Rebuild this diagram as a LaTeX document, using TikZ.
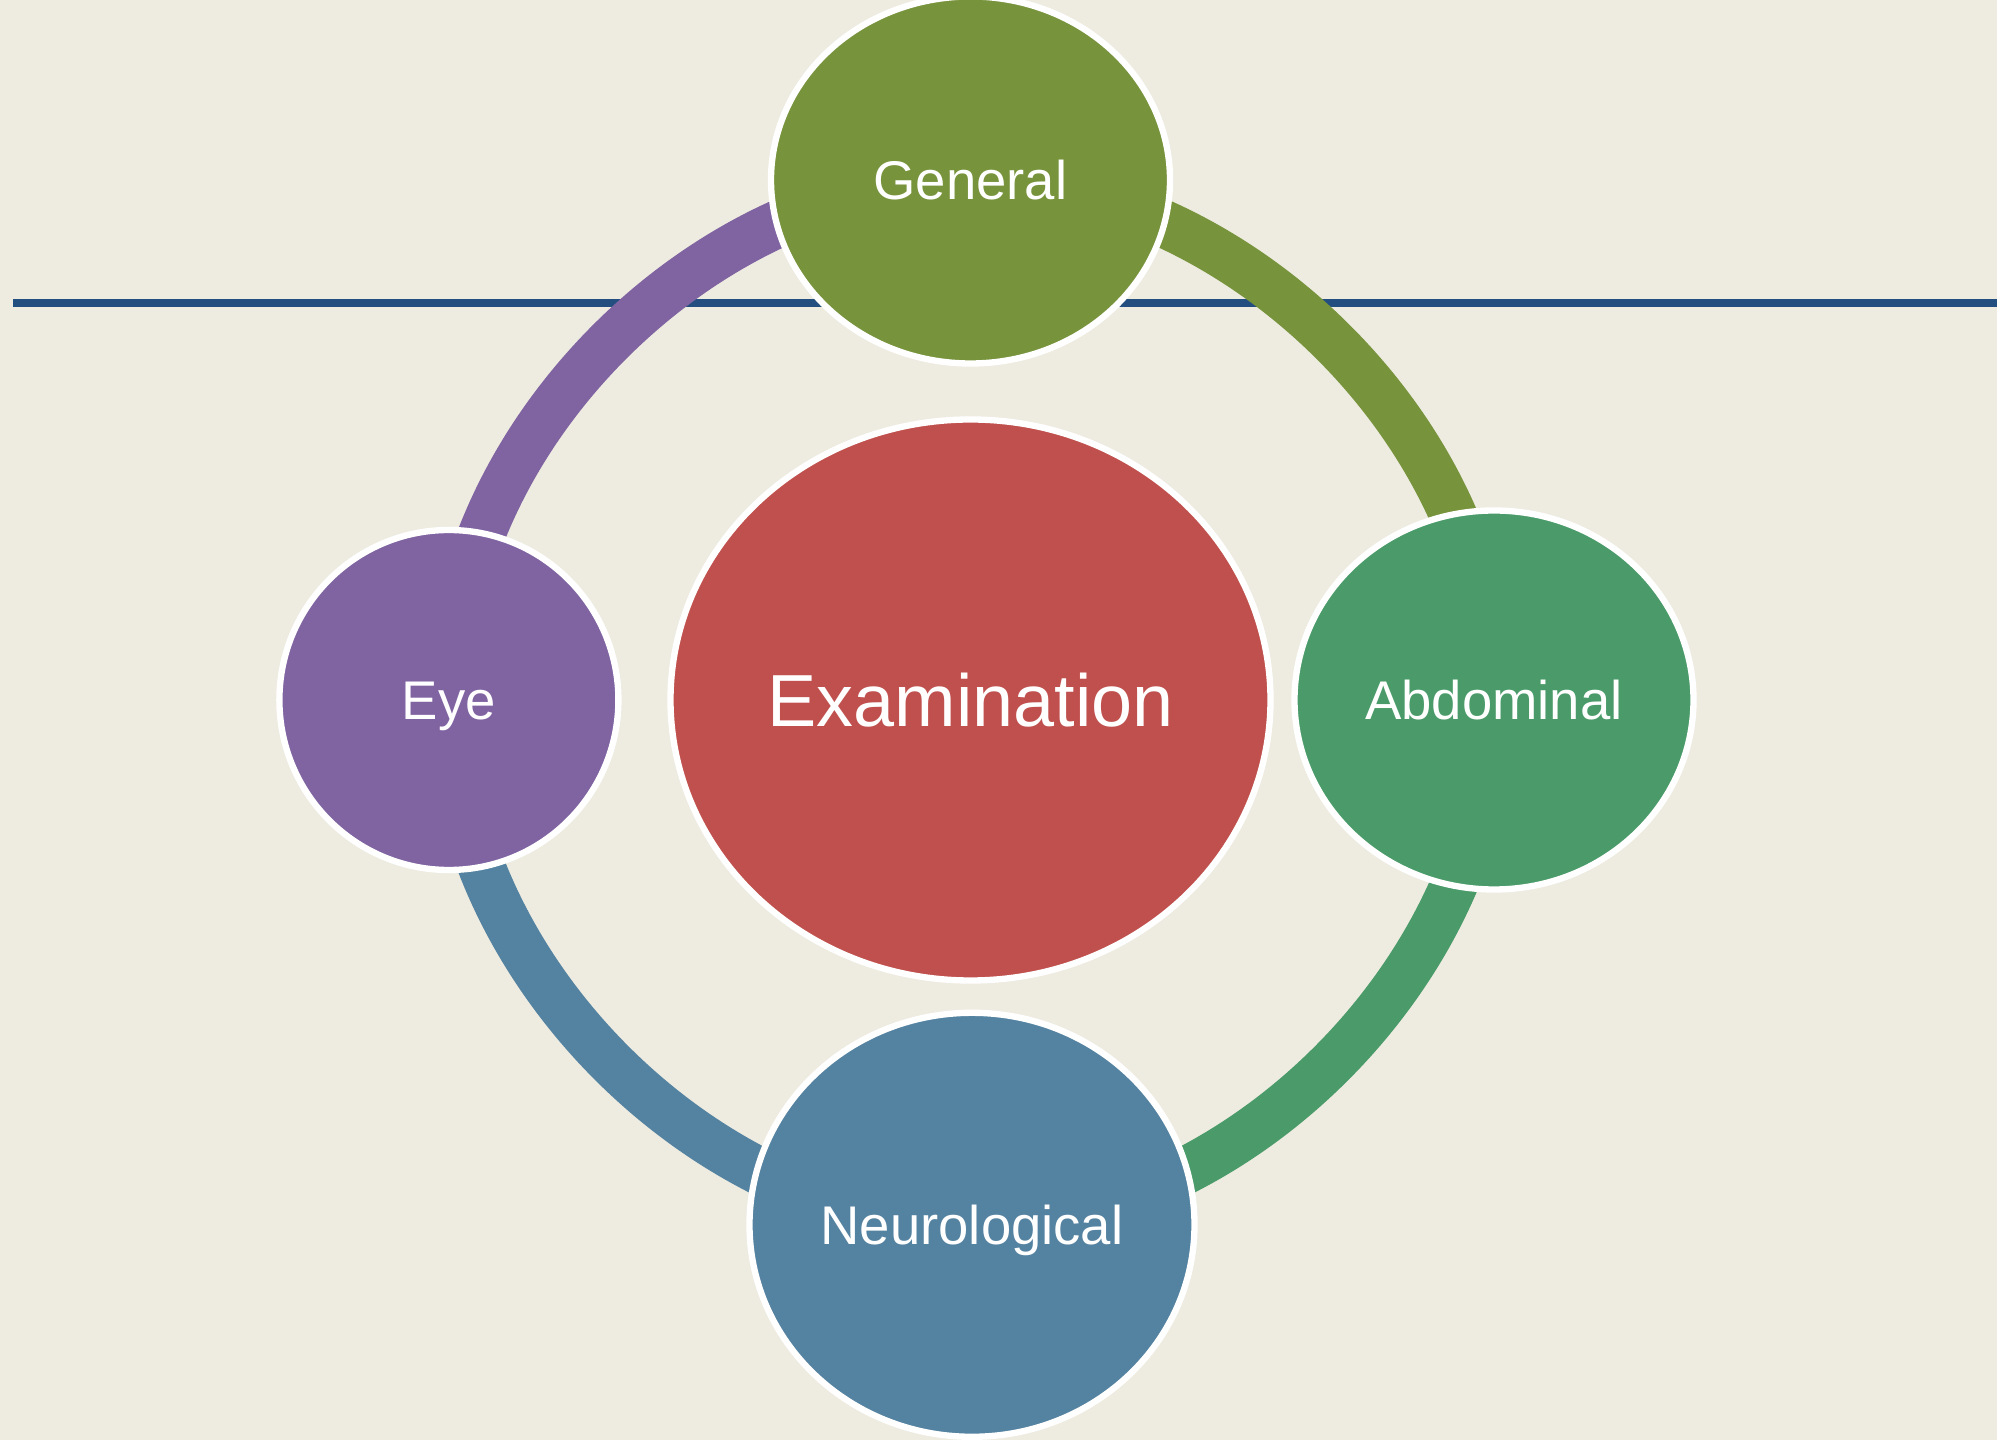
\documentclass[tikz,border=0pt]{standalone}
\usepackage{fontspec}
\setmainfont{Liberation Sans}
\usetikzlibrary{shapes.geometric,backgrounds}
\definecolor{paperbeige}{RGB}{238,236,225}
\definecolor{rulenavy}{RGB}{35,78,128}
\definecolor{examred}{RGB}{192,80,77}
\definecolor{genolive}{RGB}{119,147,60}
\definecolor{eyepurple}{RGB}{128,100,162}
\definecolor{abdgreen}{RGB}{74,155,105}
\definecolor{neuroblue}{RGB}{84,130,161}

\begin{document}
\begin{tikzpicture}[
    bubble/.style={ellipse, draw=white, line width=1.8pt, inner sep=0pt, text=white, text depth=0pt, text height=0.39cm, font=\fontsize{15.5}{18}\selectfont},
    ring/.style={line width=13.5pt, looseness=0.92}
]
\useasboundingbox (0,0) rectangle (19.97,14.40);

\node[bubble, fill=examred, minimum width=6.0cm, minimum height=5.61cm, text height=0.53cm, font=\fontsize{21}{25}\selectfont] (exam) at (9.705, 7.40) {Examination};
\node[bubble, fill=genolive, minimum width=3.99cm, minimum height=3.67cm] (general) at (9.705, 12.60) {General};
\node[bubble, fill=eyepurple, minimum width=3.39cm, minimum height=3.40cm] (eye) at (4.489, 7.40) {Eye};
\node[bubble, fill=abdgreen, minimum width=3.99cm, minimum height=3.79cm] (abdominal) at (14.94, 7.40) {Abdominal};
\node[bubble, fill=neuroblue, minimum width=4.45cm, minimum height=4.24cm] (neuro) at (9.72, 2.152) {Neurological};

\begin{scope}[on background layer]
\fill[paperbeige] (0,0) rectangle (19.97,14.40);
\draw[rulenavy, line width=2.1pt] (0.13,11.37) -- (19.97,11.37);
% ring segments, each coloured after the bubble it leaves (clockwise)
\draw[ring, genolive] (general.center) to[out=0, in=90] (abdominal.center);
\draw[ring, abdgreen] (abdominal.center) to[out=-90, in=0] (neuro.center);
\draw[ring, neuroblue] (neuro.center) to[out=180, in=-90] (eye.center);
\draw[ring, eyepurple] (eye.center) to[out=90, in=180] (general.center);
\end{scope}
\end{tikzpicture}
\end{document}
